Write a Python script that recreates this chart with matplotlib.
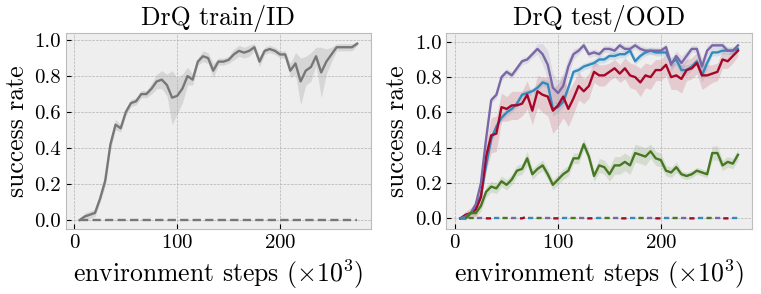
import matplotlib
matplotlib.use('Agg')
import matplotlib.pyplot as plt
import numpy as np

plt.style.use('bmh')
plt.rcParams['font.family'] = 'cmr10'
plt.rcParams['mathtext.fontset'] = 'cm'
plt.rcParams['axes.unicode_minus'] = False
plt.rcParams['axes.formatter.use_mathtext'] = True

steps = list(range(5, 280, 5))

# train/ID curve (mean and half width of the shaded band)
id_mean = [0.0, 0.02, 0.03, 0.04, 0.12, 0.22, 0.42, 0.53, 0.51, 0.60,
           0.65, 0.66, 0.70, 0.70, 0.73, 0.77, 0.78, 0.75, 0.68, 0.69,
           0.73, 0.80, 0.78, 0.88, 0.91, 0.90, 0.83, 0.88, 0.88, 0.89,
           0.92, 0.94, 0.93, 0.94, 0.96, 0.88, 0.94, 0.95, 0.94, 0.92,
           0.92, 0.83, 0.87, 0.77, 0.83, 0.85, 0.91, 0.82, 0.88, 0.92,
           0.96, 0.96, 0.96, 0.96, 0.98]
id_err = [0.0, 0.02, 0.02, 0.02, 0.02, 0.03, 0.03, 0.03, 0.02, 0.02,
          0.02, 0.02, 0.02, 0.02, 0.03, 0.04, 0.05, 0.06, 0.15, 0.10,
          0.08, 0.05, 0.03, 0.02, 0.03, 0.03, 0.04, 0.02, 0.02, 0.02,
          0.03, 0.03, 0.03, 0.03, 0.02, 0.03, 0.02, 0.02, 0.02, 0.02,
          0.02, 0.04, 0.06, 0.13, 0.08, 0.08, 0.05, 0.14, 0.07, 0.04,
          0.02, 0.02, 0.02, 0.02, 0.01]
id_zero = [0.0] * len(steps)

# test/OOD curves
ood_purple = [0.0, 0.01, 0.03, 0.08, 0.20, 0.45, 0.67, 0.70, 0.80, 0.83,
              0.81, 0.85, 0.89, 0.90, 0.93, 0.96, 0.93, 0.87, 0.74, 0.71,
              0.75, 0.86, 0.93, 0.95, 0.98, 0.93, 0.94, 0.93, 0.96, 0.96,
              0.95, 0.98, 0.96, 0.96, 0.98, 0.96, 0.95, 0.95, 0.95, 0.95,
              0.97, 0.87, 0.92, 0.88, 0.92, 0.96, 0.96, 0.86, 0.95, 0.98,
              0.98, 0.98, 0.95, 0.95, 0.98]
ood_purple_err = [0.0, 0.01, 0.01, 0.02, 0.03, 0.03, 0.02, 0.02, 0.02, 0.02,
                  0.02, 0.02, 0.02, 0.02, 0.02, 0.03, 0.06, 0.08, 0.08, 0.07,
                  0.07, 0.05, 0.03, 0.02, 0.02, 0.02, 0.02, 0.02, 0.02, 0.02,
                  0.02, 0.02, 0.02, 0.02, 0.02, 0.02, 0.02, 0.02, 0.02, 0.02,
                  0.02, 0.04, 0.03, 0.04, 0.03, 0.02, 0.02, 0.05, 0.03, 0.02,
                  0.02, 0.02, 0.02, 0.02, 0.01]
ood_blue = [0.0, 0.0, 0.03, 0.06, 0.13, 0.30, 0.45, 0.52, 0.57, 0.60,
            0.62, 0.65, 0.70, 0.71, 0.72, 0.74, 0.77, 0.76, 0.62, 0.63,
            0.66, 0.74, 0.83, 0.84, 0.86, 0.87, 0.88, 0.90, 0.90, 0.92,
            0.92, 0.93, 0.93, 0.95, 0.89, 0.92, 0.94, 0.95, 0.94, 0.94,
            0.94, 0.88, 0.90, 0.84, 0.84, 0.86, 0.89, 0.81, 0.88, 0.94,
            0.94, 0.95, 0.95, 0.95, 0.96]
ood_blue_err = [0.0, 0.01, 0.01, 0.02, 0.02, 0.03, 0.03, 0.02, 0.02, 0.02,
                0.02, 0.02, 0.02, 0.02, 0.02, 0.02, 0.02, 0.02, 0.04, 0.03,
                0.03, 0.02, 0.02, 0.02, 0.02, 0.02, 0.02, 0.02, 0.02, 0.02,
                0.02, 0.02, 0.02, 0.02, 0.02, 0.02, 0.02, 0.02, 0.02, 0.02,
                0.02, 0.03, 0.03, 0.03, 0.03, 0.02, 0.02, 0.04, 0.03, 0.02,
                0.02, 0.02, 0.02, 0.02, 0.01]
ood_red = [0.0, 0.02, 0.03, 0.05, 0.12, 0.35, 0.47, 0.48, 0.63, 0.62,
           0.64, 0.64, 0.65, 0.70, 0.61, 0.72, 0.70, 0.69, 0.61, 0.64,
           0.69, 0.62, 0.68, 0.75, 0.72, 0.75, 0.83, 0.81, 0.81, 0.83,
           0.85, 0.82, 0.85, 0.81, 0.80, 0.77, 0.81, 0.80, 0.84, 0.84,
           0.87, 0.80, 0.81, 0.79, 0.84, 0.85, 0.88, 0.81, 0.81, 0.82,
           0.83, 0.90, 0.89, 0.92, 0.95]
ood_red_err = [0.0, 0.02, 0.03, 0.04, 0.05, 0.08, 0.10, 0.10, 0.08, 0.07,
               0.08, 0.08, 0.07, 0.08, 0.08, 0.09, 0.10, 0.11, 0.13, 0.12,
               0.12, 0.10, 0.09, 0.08, 0.07, 0.07, 0.06, 0.06, 0.06, 0.05,
               0.05, 0.05, 0.06, 0.07, 0.07, 0.08, 0.07, 0.07, 0.06, 0.06,
               0.06, 0.07, 0.08, 0.08, 0.06, 0.06, 0.06, 0.08, 0.06, 0.05,
               0.05, 0.05, 0.04, 0.04, 0.03]
ood_green = [0.0, 0.0, 0.03, 0.03, 0.07, 0.15, 0.18, 0.17, 0.21, 0.19,
             0.22, 0.27, 0.28, 0.34, 0.25, 0.28, 0.30, 0.25, 0.19, 0.22,
             0.25, 0.27, 0.34, 0.34, 0.42, 0.35, 0.24, 0.30, 0.29, 0.25,
             0.30, 0.30, 0.32, 0.30, 0.37, 0.36, 0.35, 0.38, 0.34, 0.33,
             0.27, 0.26, 0.29, 0.25, 0.24, 0.25, 0.27, 0.26, 0.25, 0.37,
             0.37, 0.30, 0.32, 0.31, 0.36]
ood_green_err = [0.0, 0.01, 0.01, 0.02, 0.03, 0.03, 0.03, 0.03, 0.03, 0.03,
                 0.03, 0.03, 0.03, 0.04, 0.03, 0.03, 0.03, 0.03, 0.03, 0.03,
                 0.03, 0.03, 0.03, 0.03, 0.03, 0.03, 0.03, 0.04, 0.04, 0.04,
                 0.05, 0.05, 0.05, 0.05, 0.05, 0.05, 0.05, 0.04, 0.04, 0.04,
                 0.03, 0.03, 0.03, 0.02, 0.02, 0.02, 0.02, 0.02, 0.02, 0.04,
                 0.04, 0.03, 0.03, 0.03, 0.03]
ood_zero_red = [0.0] * len(steps)
ood_zero_red[13] = 0.01
ood_zero_other = [0.0] * len(steps)

fig, axes = plt.subplots(1, 2, figsize=(7.61, 2.94), dpi=100)

ax = axes[0]
m = np.array(id_mean)
e = np.array(id_err)
ax.fill_between(steps, m - e, m + e, color='#777777', alpha=0.2, lw=0)
ax.plot(steps, id_mean, color='#777777', lw=1.7)
ax.plot(steps, id_zero, color='#777777', lw=1.7, ls=(0, (3.5, 1.8)))
ax.set_title('DrQ train/ID', fontsize=18.5)

ax = axes[1]
ood = [(ood_blue, ood_blue_err, '#348ABD'),
       (ood_red, ood_red_err, '#A60628'),
       (ood_purple, ood_purple_err, '#7A68A6'),
       (ood_green, ood_green_err, '#467821')]
for mean, err, col in ood:
    m = np.array(mean)
    e = np.array(err)
    ax.fill_between(steps, m - e, m + e, color=col, alpha=0.15, lw=0)
    ax.plot(steps, mean, color=col, lw=1.7)
zero_series = [(ood_zero_other, '#348ABD', 0), (ood_zero_red, '#A60628', 3.6),
               (ood_zero_other, '#7A68A6', 7.2), (ood_zero_other, '#467821', 10.8)]
for vals, col, off in zero_series:
    ax.plot(steps, vals, color=col, lw=1.7, ls=(off, (2.2, 12.2)))
ax.set_title('DrQ test/OOD', fontsize=18.5)

for ax in axes:
    ax.set_xlabel(r'environment steps $(\times 10^3)$', fontsize=18.5)
    ax.set_ylabel('success rate', fontsize=18.5)
    ax.set_xticks([0, 100, 200])
    ax.set_yticks([0.0, 0.2, 0.4, 0.6, 0.8, 1.0])
    ax.set_yticklabels(['0.0', '0.2', '0.4', '0.6', '0.8', '1.0'])
    ax.tick_params(labelsize=15)

fig.subplots_adjust(left=0.0863, right=0.988, top=0.888, bottom=0.221, wspace=0.247)
fig.savefig('out.png', dpi=100)
